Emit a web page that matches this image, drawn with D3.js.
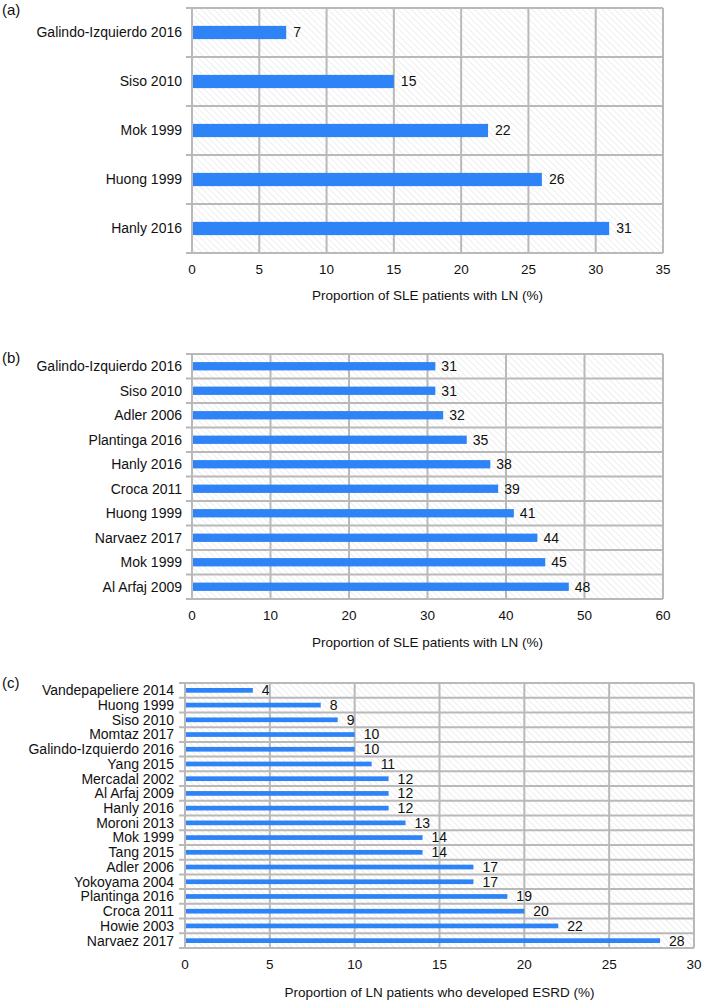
<!DOCTYPE html>
<html>
<head>
<meta charset="utf-8">
<script src="https://cdn.jsdelivr.net/npm/d3@7"></script>
<style>
  html, body { margin: 0; padding: 0; background: #fff; }
  svg { display: block; font-family: "Liberation Sans", Arial, sans-serif; }
</style>
</head>
<body>
<svg id="chart" width="702" height="1000"></svg>
<script>
// ---- Data ----
const studiesA = ["Galindo-Izquierdo 2016", "Siso 2010", "Mok 1999", "Huong 1999", "Hanly 2016"];
const valuesA = [7, 15, 22, 26, 31];
const ticksA = [0, 5, 10, 15, 20, 25, 30, 35];

const studiesB = ["Galindo-Izquierdo 2016", "Siso 2010", "Adler 2006", "Plantinga 2016", "Hanly 2016",
  "Croca 2011", "Huong 1999", "Narvaez 2017", "Mok 1999", "Al Arfaj 2009"];
const valuesB = [31, 31, 32, 35, 38, 39, 41, 44, 45, 48];
const ticksB = [0, 10, 20, 30, 40, 50, 60];

const studiesC = ["Vandepapeliere 2014", "Huong 1999", "Siso 2010", "Momtaz 2017", "Galindo-Izquierdo 2016",
  "Yang 2015", "Mercadal 2002", "Al Arfaj 2009", "Hanly 2016", "Moroni 2013", "Mok 1999", "Tang 2015",
  "Adler 2006", "Yokoyama 2004", "Plantinga 2016", "Croca 2011", "Howie 2003", "Narvaez 2017"];
const valuesC = [4, 8, 9, 10, 10, 11, 12, 12, 12, 13, 14, 14, 17, 17, 19, 20, 22, 28];
const ticksC = [0, 5, 10, 15, 20, 25, 30];

const titleAB = "Proportion of SLE patients with LN (%)";
const titleC = "Proportion of LN patients who developed ESRD (%)";

// ---- Drawing ----
const svg = d3.select("#chart");
const BAR = "#2e84f6";
const GRID = "#b9b9b9";

const defs = svg.append("defs");
const pat = defs.append("pattern")
  .attr("id", "hatch").attr("patternUnits", "userSpaceOnUse")
  .attr("width", 4.5).attr("height", 4.5)
  .attr("patternTransform", "rotate(-45)");
pat.append("rect").attr("width", 4.5).attr("height", 4.5).attr("fill", "#ffffff");
pat.append("line").attr("x1", 0).attr("y1", 0).attr("x2", 0).attr("y2", 4.5)
  .attr("stroke", "#dcdcdc").attr("stroke-width", 0.9);

function drawPanel(cfg) {
  const g = svg.append("g");
  const x = d3.scaleLinear().domain([0, cfg.ticks[cfg.ticks.length - 1]]).range([cfg.left, cfg.right]);
  const y = d3.scaleBand().domain(cfg.cats).range([cfg.top, cfg.bottom]).paddingInner(0).paddingOuter(0);

  g.append("rect").attr("x", cfg.left).attr("y", cfg.top)
    .attr("width", cfg.right - cfg.left).attr("height", cfg.bottom - cfg.top)
    .attr("fill", "url(#hatch)");

  g.selectAll(".vg").data(cfg.ticks).join("line")
    .attr("x1", d => x(d)).attr("x2", d => x(d))
    .attr("y1", cfg.top).attr("y2", cfg.bottom)
    .attr("stroke", GRID).attr("stroke-width", 2);

  const bounds = cfg.cats.map(c => y(c)).concat([cfg.bottom]);
  g.selectAll(".hg").data(bounds).join("line")
    .attr("x1", cfg.left - 6).attr("x2", cfg.right)
    .attr("y1", d => d).attr("y2", d => d)
    .attr("stroke", GRID).attr("stroke-width", 2);

  const bh = y.bandwidth() * cfg.barFrac;
  g.selectAll(".bar").data(cfg.cats).join("rect")
    .attr("x", x(0) + 1)
    .attr("y", (d) => y(d) + (y.bandwidth() - bh) / 2)
    .attr("width", (d, i) => x(cfg.vals[i]) - x(0) - 1)
    .attr("height", bh)
    .attr("fill", BAR);

  g.selectAll(".val").data(cfg.cats).join("text")
    .attr("x", (d, i) => x(cfg.vals[i]) + cfg.valOff)
    .attr("y", d => y(d) + y.bandwidth() / 2)
    .attr("dy", "0.35em")
    .attr("font-size", cfg.fs).attr("fill", "#111")
    .text((d, i) => cfg.vals[i]);

  g.selectAll(".cat").data(cfg.cats).join("text")
    .attr("x", cfg.catX)
    .attr("y", d => y(d) + y.bandwidth() / 2)
    .attr("dy", "0.35em")
    .attr("text-anchor", "end")
    .attr("font-size", cfg.fs).attr("fill", "#111")
    .text(d => d);

  g.selectAll(".tk").data(cfg.ticks).join("text")
    .attr("x", d => x(d)).attr("y", cfg.tickY).attr("dy", "0.35em")
    .attr("text-anchor", "middle")
    .attr("font-size", cfg.fs2).attr("fill", "#111")
    .text(d => d);

  g.append("text")
    .attr("x", (cfg.left + cfg.right) / 2).attr("y", cfg.titleY).attr("dy", "0.35em")
    .attr("text-anchor", "middle")
    .attr("font-size", cfg.fs2).attr("fill", "#111")
    .text(cfg.title);

  g.append("text")
    .attr("x", 2).attr("y", cfg.letterY).attr("dy", "0.35em")
    .attr("font-size", 15).attr("fill", "#111")
    .text(cfg.letter);
}

drawPanel({ cats: studiesA, vals: valuesA, ticks: ticksA, title: titleAB, letter: "(a)",
  left: 192, right: 663, top: 8, bottom: 253, tickY: 269, titleY: 295, letterY: 10,
  catX: 182, barFrac: 0.27, valOff: 7, fs: 14, fs2: 13.5 });

drawPanel({ cats: studiesB, vals: valuesB, ticks: ticksB, title: titleAB, letter: "(b)",
  left: 192, right: 663, top: 354, bottom: 599, tickY: 615, titleY: 642, letterY: 358,
  catX: 182, barFrac: 0.34, valOff: 6, fs: 14, fs2: 13.5 });

drawPanel({ cats: studiesC, vals: valuesC, ticks: ticksC, title: titleC, letter: "(c)",
  left: 185, right: 694, top: 683, bottom: 948, tickY: 964, titleY: 992, letterY: 683,
  catX: 174, barFrac: 0.32, valOff: 9, fs: 14, fs2: 13.5 });
</script>
</body>
</html>
